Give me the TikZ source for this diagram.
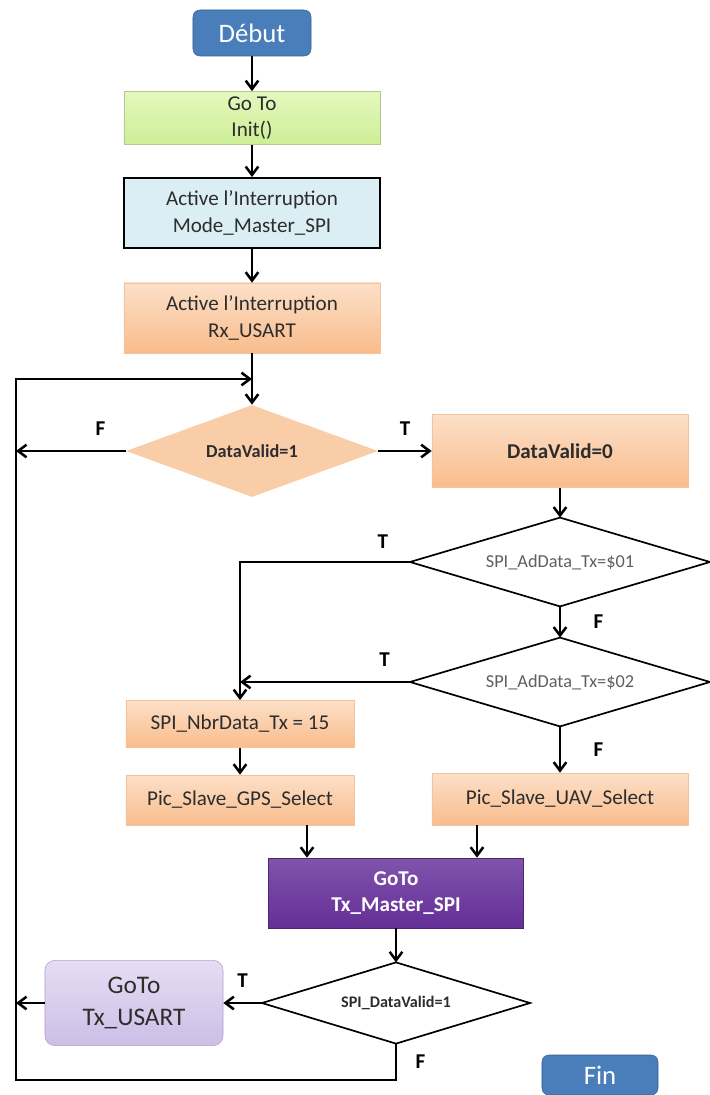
\documentclass[tikz,border=0pt]{standalone}
\usepackage{fontspec}
\setmainfont{Carlito}
\usepackage{tikz}
\usetikzlibrary{arrows.meta, positioning, shapes.geometric}
\definecolor{fcblue}{RGB}{74, 126, 187}
\definecolor{fcblueline}{RGB}{55, 95, 145}
\definecolor{fcgreentop}{RGB}{228, 248, 190}
\definecolor{fcgreen}{RGB}{205, 238, 150}
\definecolor{fcgreenline}{RGB}{180, 200, 150}
\definecolor{fcice}{RGB}{218, 238, 243}
\definecolor{fcorangetop}{RGB}{252, 224, 200}
\definecolor{fcorange}{RGB}{249, 188, 140}
\definecolor{fcorangeline}{RGB}{245, 195, 155}
\definecolor{fcpurpletop}{RGB}{128, 84, 172}
\definecolor{fcpurple}{RGB}{100, 46, 150}
\definecolor{fclilactop}{RGB}{230, 221, 244}
\definecolor{fclilac}{RGB}{205, 190, 230}
\definecolor{fclilacline}{RGB}{175, 160, 205}
\definecolor{fctext}{RGB}{45, 45, 45}
\definecolor{fcgraytext}{RGB}{95, 95, 95}

\begin{document}
\begin{tikzpicture}[
    x=0.025cm, y=-0.025cm,
    base/.style={rectangle, align=center, inner sep=2pt, text=fctext,
                 font=\fontsize{15}{19}\selectfont},
    term/.style={base, draw=fcblueline, fill=fcblue, rounded corners=5pt,
                 text=white, font=\fontsize{19}{22}\selectfont,
                 minimum width=2.95cm, minimum height=1.15cm},
    initbox/.style={base, draw=fcgreenline, top color=fcgreentop,
                    bottom color=fcgreen, minimum width=6.4cm,
                    minimum height=1.33cm},
    intbox/.style={base, draw=black, line width=1.3pt, fill=fcice,
                   minimum width=6.4cm, minimum height=1.75cm},
    orbox/.style={base, draw=fcorangeline, top color=fcorangetop,
                  bottom color=fcorange},
    spibox/.style={base, draw=fcpurple!80!black, top color=fcpurpletop,
                   bottom color=fcpurple, text=white,
                   font=\bfseries\fontsize{15}{19}\selectfont,
                   minimum width=6.38cm, minimum height=1.75cm},
    usartbox/.style={base, draw=fclilacline, top color=fclilactop,
                     bottom color=fclilac, rounded corners=7pt,
                     font=\fontsize{18}{23}\selectfont,
                     minimum width=4.45cm, minimum height=2.13cm},
    dec/.style={diamond, draw=black, line width=1.2pt, fill=white,
                inner sep=0pt, outer sep=0pt, text=fcgraytext,
                font=\fontsize{13}{15}\selectfont},
    arr/.style={-{Straight Barb[length=6pt, width=9pt]}, line width=1.8pt},
    lbl/.style={inner sep=2pt, font=\bfseries\fontsize{15}{17}\selectfont},
  ]
    \useasboundingbox (0,0) rectangle (709,1095);

    % Start and initialisation
    \node[term] (debut) at (252,33) {Début};
    \node[initbox] (init) at (252,118) {Go To\\Init()};
    \node[intbox] (mode) at (252,213) {Active l'Interruption\\Mode\_Master\_SPI};
    \node[orbox, minimum width=6.4cm, minimum height=1.75cm] (rx) at (252,318)
      {Active l'Interruption\\Rx\_USART};

    % First test
    \node[diamond, aspect=2.74, fill=fcorange!75, inner sep=0pt,
          minimum width=6.3cm, minimum height=2.3cm, text=fctext,
          font=\bfseries\fontsize{13}{15}\selectfont] (d1) at (252,451) {DataValid=1};
    \node[orbox, font=\bfseries\fontsize{15}{19}\selectfont,
          minimum width=6.4cm, minimum height=1.83cm] (dv0) at (560,451) {DataValid=0};

    % Address tests
    \node[dec, aspect=3.37, minimum width=7.5cm, minimum height=2.22cm] (d2) at (560,562) {SPI\_AdData\_Tx=\$01};
    \node[dec, aspect=3.37, minimum width=7.5cm, minimum height=2.22cm] (d3) at (560,682) {SPI\_AdData\_Tx=\$02};

    % Slave selection
    \node[orbox, minimum width=5.7cm, minimum height=1.18cm] (nbr) at (240,724) {SPI\_NbrData\_Tx = 15};
    \node[orbox, minimum width=5.7cm, minimum height=1.25cm] (gps) at (240,800) {Pic\_Slave\_GPS\_Select};
    \node[orbox, minimum width=6.4cm, minimum height=1.3cm] (uav) at (560,799) {Pic\_Slave\_UAV\_Select};

    % Transmission
    \node[spibox] (master) at (396,893) {GoTo\\Tx\_Master\_SPI};
    \node[dec, aspect=3.3, minimum width=6.7cm, minimum height=2.03cm, text=fctext,
          font=\bfseries\fontsize{11.5}{13}\selectfont] (d4) at (396,1003) {SPI\_DataValid=1};
    \node[usartbox] (usart) at (134,1003) {GoTo\\Tx\_USART};
    \node[term, minimum width=2.9cm, minimum height=1cm] (fin) at (600,1075) {Fin};

    % Loop points
    \coordinate (merge) at (252,379);
    \coordinate (back) at (16,1080);

    \draw[arr] (debut) -- (init);
    \draw[arr] (init) -- (mode);
    \draw[arr] (mode) -- (rx);
    \draw[arr] (rx) -- (d1);
    \draw[arr] (d1.west) -- node[lbl, pos=0.23, above=8pt]{F} (d1.west -| back);
    \draw[arr] (d1.east) -- node[lbl, above=8pt]{T} (dv0.west);
    \draw[arr] (dv0) -- (d2);
    \draw[arr] (d2.west) -| node[lbl, pos=0.08, above=7pt]{T} (nbr.north);
    \draw[arr] (d2.south) -- node[lbl, right=21pt]{F} (d3.north);
    \draw[arr] (d3.west) -- node[lbl, pos=0.15, above=8pt]{T} (d3.west -| nbr.north);
    \draw[arr] (d3.south) -- node[lbl, right=21pt]{F} (uav.north);
    \draw[arr] (nbr) -- (gps);
    \draw[arr] ([xshift=1.675cm]gps.south) -- ([xshift=1.675cm]gps.south |- master.north);
    \draw[arr] ([xshift=-2.075cm]uav.south) -- ([xshift=-2.075cm]uav.south |- master.north);
    \draw[arr] (master) -- (d4);
    \draw[arr] (d4.west) -- node[lbl, above=8pt]{T} (usart.east);
    \draw[arr] (usart.west) -- (usart.west -| back);
    \draw[arr] (d4.south) -- node[lbl, right=11pt]{F} (d4.south |- back)
      -- (back) |- (merge);
\end{tikzpicture}
\end{document}
